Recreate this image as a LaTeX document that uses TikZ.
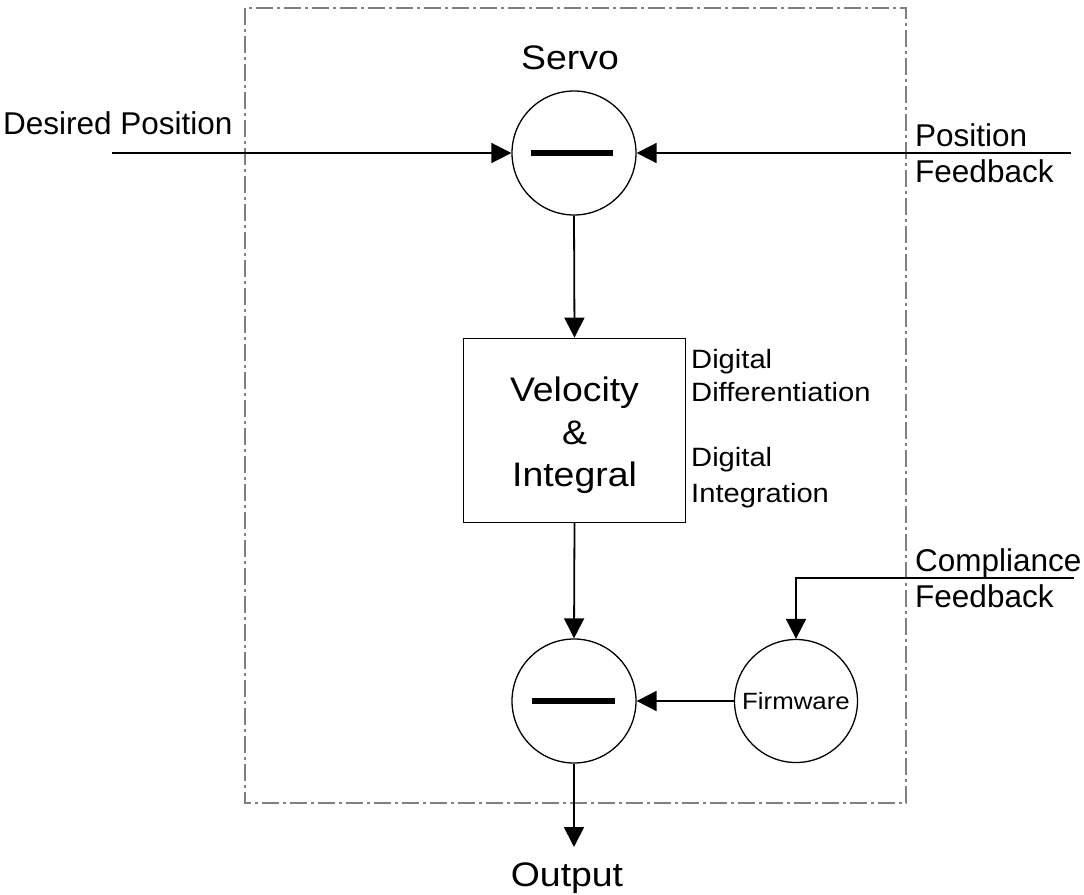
\documentclass[tikz,border=0pt]{standalone}
\usepackage{fontspec}
\setmainfont{Liberation Sans}[FakeStretch=1.1]
\newfontfamily\plainsans{Liberation Sans}
\usetikzlibrary{arrows.meta}
\definecolor{borderGray}{RGB}{128,128,128}
\begin{document}
\begin{tikzpicture}[x=1pt,y=-1pt,
  conn/.style={line width=1.8pt},
  arr/.style={conn,-{Triangle[length=20pt,width=20pt]}},
  sumnode/.style={circle,draw,line width=1.3pt,minimum size=124pt,inner sep=0pt},
  minusbar/.style={line width=5.7pt},
  border/.style={draw=borderGray,line width=2pt,dash pattern=on 17pt off 4pt on 3pt off 4pt},
  lbl/.style={inner sep=0pt,anchor=base west,font=\plainsans\fontsize{31.5}{36}\selectfont},
  title/.style={inner sep=0pt,anchor=base,font=\fontsize{34}{42}\selectfont},
  note/.style={inner sep=0pt,anchor=base west,font=\fontsize{26.5}{33}\selectfont},
]
\useasboundingbox (0,0) rectangle (1084,894);

% subsystem boundary
\draw[border] (245,8) rectangle (906,803);

% blocks
\node[sumnode] (servo) at (574,153) {};
\node[draw,line width=1.4pt,minimum width=222pt,minimum height=184pt,inner sep=0pt] (vbox) at (574.5,430.3) {};
\node[inner sep=0pt,align=center,font=\fontsize{34}{42.5}\selectfont] (vtext) at ([yshift=-5pt]vbox.center) {Velocity\\\&\\Integral};
\node[sumnode] (sum) at (574,701) {};
\node[sumnode,minimum size=123pt,font=\fontsize{23.5}{28}\selectfont] (firm) at (796,701) {Firmware};

% minus signs
\draw[minusbar] ([xshift=-43pt]servo.center) -- ([xshift=39pt]servo.center);
\draw[minusbar] ([xshift=-42pt]sum.center) -- ([xshift=41pt]sum.center);

% free ends of the signal lines
\coordinate (desired) at (112,153);
\coordinate (posfb) at (1071,153);
\coordinate (compfb) at (1074,578);
\coordinate (out) at (574,847);

% signal flow
\draw[arr] (desired) -- (servo.west);
\draw[arr] (posfb) -- (servo.east);
\draw[arr] (servo.south) -- (vbox.north);
\draw[arr] (vbox.south) -- (sum.north);
\draw[arr] (firm.west) -- (sum.east);
\draw[arr] (compfb) -| (firm.north);
\draw[arr] (sum.south) -- (out);

% labels
\node[title] (servolbl) at (570,69) {Servo};
\node[title] (outlbl) at (567,886) {Output};
\node[lbl] (dp) at (3,134) {Desired Position};
\node[lbl] (pf1) at (915,146) {Position};
\node[lbl] (pf2) at (915,182) {Feedback};
\node[lbl] (cf1) at (915,571) {Compliance};
\node[lbl] (cf2) at (915,607) {Feedback};
\node[note] (dd1) at (691,368) {Digital};
\node[note] (dd2) at (691,401.7) {Differentiation};
\node[note] (di1) at (691,466.7) {Digital};
\node[note] (di2) at (691,502.7) {Integration};
\end{tikzpicture}
\end{document}
